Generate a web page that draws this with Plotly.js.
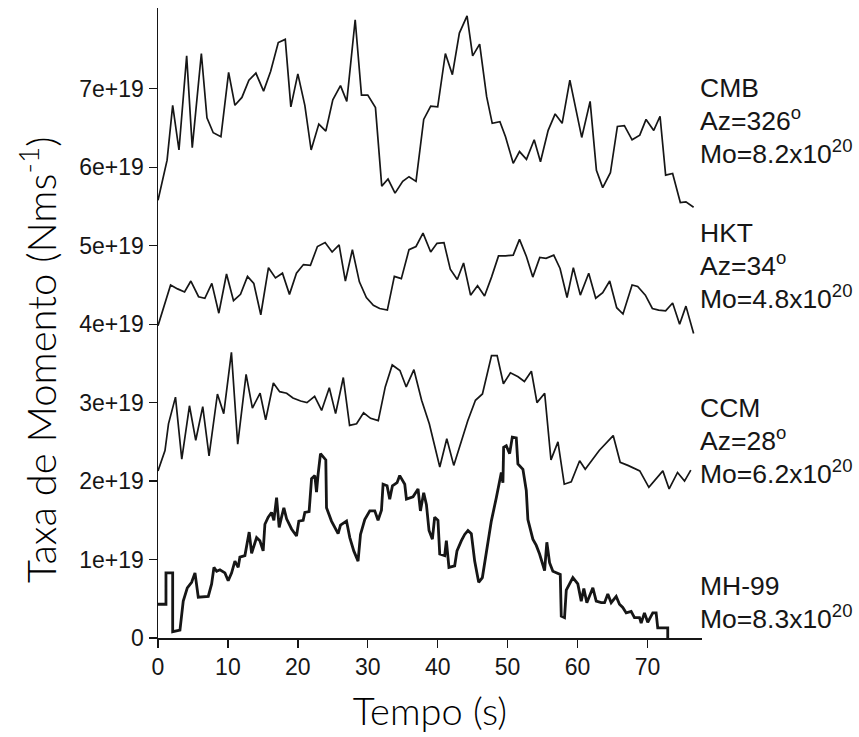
<!DOCTYPE html>
<html>
<head>
<meta charset="utf-8">
<script src="https://cdn.plot.ly/plotly-3.0.1.min.js"></script>
<style>
  html, body { margin: 0; padding: 0; background: #ffffff; }
  #chart { width: 859px; height: 737px; }
</style>
</head>
<body>
<div id="chart"></div>
<script>
// Moment-rate functions (units of 1e19 N·m/s) against time (s)
const SCALE = 1e19;

// CMB station
const cmbT = [0, 1.3, 2.1, 3.0, 4.1, 4.9, 6.2, 7.0, 7.9, 9.0, 10.1, 11.0, 12.0, 13.0, 14.0, 15.1, 16.1, 17.2, 18.2, 19.0,
  20.0, 21.0, 21.9, 23.0, 24.0, 25.0, 26.1, 27.0, 28.2, 29.1, 30.0, 31.1, 32.0, 32.9, 33.9, 35.0, 35.9, 36.9, 38.0, 39.0,
  40.0, 41.1, 42.1, 43.1, 44.2, 45.0, 46.0, 47.0, 47.8, 48.9, 49.7, 50.8, 51.7, 52.7, 53.8, 54.7, 55.8, 56.8, 57.8, 58.9,
  60.6, 61.8, 62.7, 63.6, 64.7, 65.7, 66.7, 67.8, 68.9, 69.8, 70.9, 71.8, 72.6, 73.6, 74.7, 75.5, 76.6];
const cmbV = [5.58, 6.09, 6.79, 6.22, 7.42, 6.25, 7.45, 6.63, 6.44, 6.39, 7.21, 6.79, 6.89, 7.11, 7.2, 6.97, 7.22, 7.59, 7.63, 6.77,
  7.19, 6.79, 6.22, 6.55, 6.46, 6.86, 7.04, 6.84, 7.88, 6.92, 6.92, 6.76, 5.76, 5.85, 5.67, 5.82, 5.88, 5.82, 6.61, 6.78,
  6.77, 7.45, 7.18, 7.71, 7.93, 7.42, 7.57, 6.9, 6.56, 6.58, 6.39, 6.05, 6.2, 6.1, 6.35, 6.07, 6.47, 6.68, 6.56, 7.11,
  6.38, 6.84, 5.96, 5.74, 5.93, 6.52, 6.53, 6.35, 6.41, 6.61, 6.47, 6.65, 5.9, 5.92, 5.55, 5.56, 5.49];

// HKT station
const hktT = [0, 1.8, 2.8, 3.8, 4.7, 5.8, 6.7, 7.7, 8.7, 9.8, 10.8, 11.8, 12.8, 13.7, 14.7, 15.8, 16.8, 17.8, 18.8, 19.8,
  20.8, 21.8, 22.8, 23.9, 24.9, 25.9, 26.8, 27.8, 28.8, 29.8, 30.8, 31.7, 32.8, 33.8, 34.8, 35.9, 36.9, 37.9, 39.0, 39.9,
  40.9, 41.8, 42.8, 43.7, 44.7, 45.7, 46.7, 47.7, 48.7, 49.7, 50.8, 51.7, 52.7, 53.6, 54.6, 55.5, 56.6, 57.5, 58.5, 59.4,
  60.4, 61.6, 62.6, 63.6, 64.6, 65.6, 66.5, 67.8, 68.6, 69.7, 70.7, 71.6, 72.6, 73.6, 74.6, 75.5, 76.6];
const hktV = [3.98, 4.5, 4.45, 4.41, 4.55, 4.35, 4.33, 4.52, 4.14, 4.64, 4.3, 4.38, 4.61, 4.52, 4.12, 4.72, 4.59, 4.65, 4.38, 4.65,
  4.76, 4.75, 4.99, 5.04, 4.92, 5.01, 4.55, 4.95, 4.54, 4.34, 4.24, 4.2, 4.18, 4.61, 4.58, 4.95, 4.99, 5.16, 4.92, 5.03,
  5.04, 4.7, 4.57, 4.78, 4.37, 4.49, 4.36, 4.6, 4.87, 4.87, 4.88, 5.08, 4.86, 4.6, 4.85, 4.84, 4.88, 4.71, 4.34, 4.72,
  4.37, 4.65, 4.33, 4.4, 4.55, 4.21, 4.13, 4.5, 4.48, 4.37, 4.2, 4.18, 4.17, 4.27, 4.0, 4.23, 3.88];

// CCM station
const ccmT = [0, 1.0, 1.5, 2.5, 3.4, 4.5, 5.4, 6.4, 7.3, 8.5, 9.4, 10.5, 11.4, 12.6, 13.5, 14.6, 15.4, 16.5, 17.4, 18.4,
  19.3, 20.4, 21.3, 22.4, 23.4, 24.5, 25.4, 26.5, 27.4, 28.4, 29.4, 30.4, 31.5, 32.5, 33.5, 34.6, 35.5, 36.6, 37.7, 38.8,
  40.3, 41.3, 42.3, 44.3, 45.4, 46.4, 47.7, 48.5, 49.4, 50.4, 51.5, 52.4, 53.4, 54.2, 55.3, 56.2, 57.2, 58.1, 59.1, 60.3,
  61.1, 63.1, 65.1, 66.1, 67.2, 68.9, 70.2, 72.2, 73.1, 74.3, 75.3, 76.2];
const ccmV = [2.13, 2.39, 2.73, 3.07, 2.28, 2.96, 2.52, 2.95, 2.32, 3.11, 2.86, 3.64, 2.47, 3.36, 2.93, 3.12, 2.78, 3.25, 3.14, 3.12,
  3.06, 3.02, 3.0, 3.08, 2.9, 3.19, 2.86, 3.32, 2.71, 2.73, 2.87, 2.8, 2.77, 3.2, 3.48, 3.41, 3.2, 3.42, 3.03, 2.73,
  2.18, 2.54, 2.2, 2.77, 3.03, 3.11, 3.6, 3.6, 3.24, 3.38, 3.33, 3.27, 3.4, 3.0, 3.12, 2.27, 2.5, 1.96, 1.99, 2.26,
  2.15, 2.39, 2.58, 2.24, 2.2, 2.13, 1.92, 2.13, 1.9, 2.11, 2.0, 2.14];

// MH-99 model source time function
const mhT = [0, 1.14, 1.14, 2.1, 2.1, 3.14, 3.61, 4.19, 4.81, 5.29,
  5.76, 7.19, 7.67, 8.0, 8.39, 8.86, 9.57, 10.04, 10.53, 11.0,
  11.47, 11.71, 12.43, 13.04, 13.39, 14.1, 14.57, 15.04, 15.29, 15.76,
  16.24, 16.57, 16.96, 17.33, 17.67, 18.0, 18.39, 19.1, 19.81, 20.14,
  20.76, 21.0, 21.61, 21.96, 22.43, 22.67, 22.9, 23.24, 24.0, 24.1,
  24.81, 25.53, 25.76, 26.1, 26.96, 27.43, 28.0, 28.61, 28.96, 29.57,
  30.29, 31.0, 31.47, 31.96, 32.19, 32.76, 33.14, 33.53, 34.19, 34.57,
  35.29, 35.53, 36.47, 37.19, 37.53, 38.0, 38.39, 38.76, 39.24, 39.57,
  40.04, 40.29, 41.0, 41.24, 41.61, 42.43, 42.76, 43.39, 43.86, 44.33,
  44.81, 45.29, 45.86, 46.39, 46.96, 47.67, 48.39, 48.86, 49.1, 49.33,
  49.43, 49.81, 50.29, 50.67, 51.24, 51.47, 52.19, 52.67, 52.9, 53.61,
  54.1, 54.57, 55.29, 55.61, 56.0, 56.47, 57.53, 57.67, 58.14, 58.39,
  58.86, 59.33, 60.04, 60.53, 60.9, 61.33, 62.19, 62.67, 63.39, 63.86,
  64.33, 64.81, 65.53, 66.0, 66.47, 66.96, 67.67, 68.14, 68.86, 69.1,
  69.57, 70.04, 70.76, 71.24, 71.47, 72.9, 72.9];
const mhV = [0.43, 0.43, 0.83, 0.83, 0.08, 0.1, 0.47, 0.64, 0.71, 0.83,
  0.52, 0.53, 0.69, 0.9, 0.85, 0.87, 0.83, 0.73, 0.83, 0.98,
  0.9, 1.03, 1.05, 1.35, 1.08, 1.28, 1.24, 1.11, 1.45, 1.54,
  1.6, 1.5, 1.79, 1.41, 1.54, 1.66, 1.52, 1.39, 1.3, 1.49,
  1.5, 1.6, 1.61, 2.03, 2.07, 1.86, 2.09, 2.35, 2.27, 1.66,
  1.49, 1.37, 1.33, 1.44, 1.49, 1.28, 1.11, 0.98, 1.32, 1.51,
  1.62, 1.62, 1.5, 1.63, 1.96, 1.94, 1.77, 1.94, 1.98, 2.07,
  1.96, 1.77, 1.8, 1.9, 1.62, 1.85, 1.7, 1.37, 1.26, 1.54,
  1.5, 1.07, 1.05, 1.24, 0.9, 0.92, 1.11, 1.24, 1.32, 1.37,
  1.33, 0.98, 0.71, 0.77, 1.07, 1.49, 1.79, 1.98, 2.11, 1.98,
  2.43, 2.45, 2.35, 2.56, 2.55, 2.22, 2.15, 1.88, 1.51, 1.26,
  1.18, 1.07, 0.86, 1.22, 0.96, 0.85, 0.81, 0.28, 0.26, 0.61,
  0.69, 0.77, 0.69, 0.47, 0.63, 0.45, 0.64, 0.47, 0.45, 0.45,
  0.56, 0.45, 0.53, 0.43, 0.39, 0.32, 0.34, 0.26, 0.26, 0.19,
  0.32, 0.2, 0.32, 0.32, 0.13, 0.13, 0];

// Axis ticks
const xTicks = [0, 10, 20, 30, 40, 50, 60, 70];
const yTickUnits = [0, 1, 2, 3, 4, 5, 6, 7];
const yTickText = ['0', '1e+19', '2e+19', '3e+19', '4e+19', '5e+19', '6e+19', '7e+19'];

// Station labels (one line per entry)
const stationLabels = [
  ['CMB', 'Az=326<sup>o</sup>', 'Mo=8.2x10<sup>20</sup>'],
  ['HKT', 'Az=34<sup>o</sup>', 'Mo=4.8x10<sup>20</sup>'],
  ['CCM', 'Az=28<sup>o</sup>', 'Mo=6.2x10<sup>20</sup>'],
  ['MH-99', 'Mo=8.3x10<sup>20</sup>']
];
const xTitle = 'Tempo (s)';
const yTitle = 'Taxa de Momento (Nms<sup>-1</sup>)';

// ---- page geometry ----
const W = 859, H = 737;
const M = { l: 158, r: 157, t: 8, b: 99 };
const paperX = px => (px - M.l) / (W - M.l - M.r);
const paperY = py => (H - M.b - py) / (H - M.t - M.b);

const ink = '#161616';
const toY = arr => arr.map(v => v * SCALE);

const thin = { color: ink, width: 1.7 };
const traces = [
  { x: cmbT, y: toY(cmbV), mode: 'lines', line: thin, name: 'CMB' },
  { x: hktT, y: toY(hktV), mode: 'lines', line: thin, name: 'HKT' },
  { x: ccmT, y: toY(ccmV), mode: 'lines', line: thin, name: 'CCM' },
  { x: mhT, y: toY(mhV), mode: 'lines', line: { color: ink, width: 2.8 }, name: 'MH-99' }
];

// label line centres (px) for each block
const labelRows = [[88, 121, 154], [233, 266, 299], [408, 441, 474], [586, 619]];
const labelFont = { family: 'Liberation Sans, Arial, sans-serif', size: 26.5, color: ink };
const titleFont = { family: 'Lato, Open Sans, sans-serif', weight: 300, color: '#000000' };
const annotations = [];
stationLabels.forEach((lines, i) => {
  lines.forEach((txt, j) => {
    annotations.push({
      xref: 'paper', yref: 'paper',
      x: paperX(698), y: paperY(labelRows[i][j] + 17),
      xanchor: 'left', yanchor: 'bottom',
      text: txt, showarrow: false, font: labelFont, align: 'left'
    });
  });
});
annotations.push({
  xref: 'paper', yref: 'paper',
  x: paperX(38), y: paperY(360),
  xanchor: 'center', yanchor: 'middle',
  textangle: -90, text: yTitle, showarrow: false,
  font: Object.assign({ size: 40 }, titleFont)
});

const axisCommon = {
  showgrid: false, zeroline: false, showline: true,
  linecolor: ink, linewidth: 1.5,
  ticks: 'outside', ticklen: 8, tickwidth: 1.3, tickcolor: ink,
  tickfont: { family: 'Liberation Sans, Arial, sans-serif', size: 23, color: ink }
};

const layout = {
  width: W, height: H,
  margin: M,
  paper_bgcolor: '#ffffff', plot_bgcolor: '#ffffff',
  showlegend: false,
  xaxis: Object.assign({}, axisCommon, {
    range: [0, 77.8], tickmode: 'array', tickvals: xTicks,
    title: { text: xTitle, standoff: 19, font: Object.assign({ size: 38 }, titleFont) }
  }),
  yaxis: Object.assign({}, axisCommon, {
    range: [0, 8.03 * SCALE], tickmode: 'array',
    tickvals: yTickUnits.map(v => v * SCALE), ticktext: yTickText
  }),
  annotations: annotations
};

Plotly.newPlot('chart', traces, layout, { staticPlot: true, displayModeBar: false });
</script>
</body>
</html>
